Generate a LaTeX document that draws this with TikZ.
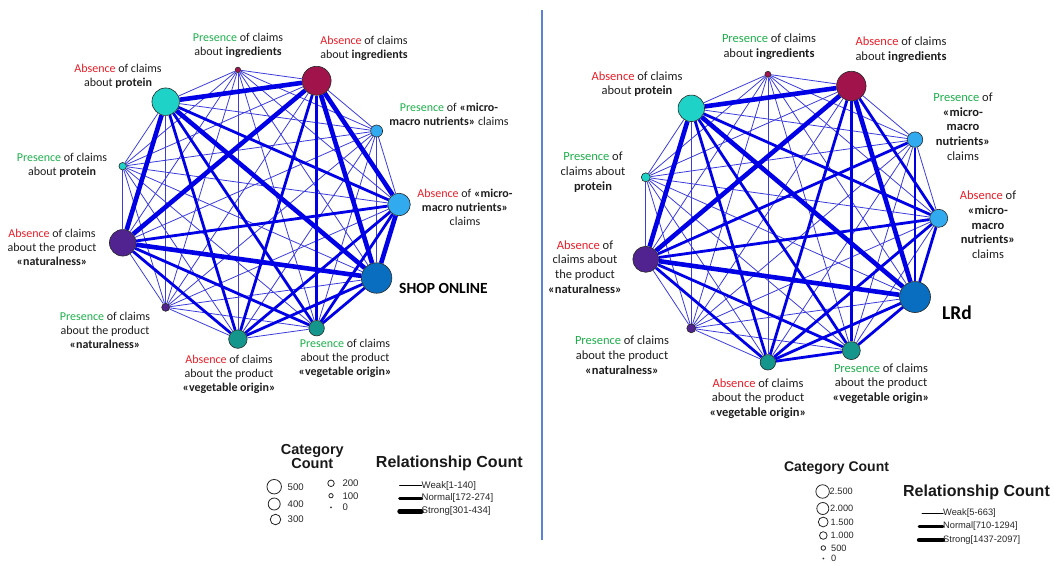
\documentclass[tikz,border=0pt]{standalone}
\usepackage{fontspec}
\setmainfont{Carlito}
\newfontfamily\arialf{Liberation Sans}
\usetikzlibrary{backgrounds}

\definecolor{edgeblue}{RGB}{0,0,230}
\definecolor{weakblue}{RGB}{60,60,222}
\definecolor{cIng}{RGB}{160,20,75}
\definecolor{cPro}{RGB}{30,210,200}
\definecolor{cNat}{RGB}{80,35,145}
\definecolor{cMic}{RGB}{50,170,240}
\definecolor{cShop}{RGB}{10,110,192}
\definecolor{cVeg}{RGB}{20,150,140}
\definecolor{presgreen}{RGB}{30,175,75}
\definecolor{absred}{RGB}{232,30,40}
\definecolor{sepblue}{RGB}{90,130,220}
\definecolor{txtgray}{RGB}{30,30,30}

\newcommand\Pres{\textcolor{presgreen}{Presence}}
\newcommand\Abs{\textcolor{absred}{Absence}}

\begin{document}
\begin{tikzpicture}[x=1pt,y=-1pt,
  gnode/.style 2 args={circle, draw=black!85, line width=0.6pt, fill=#1, minimum size=#2pt, inner sep=0pt},
  wedge/.style={draw=weakblue, line width=0.8pt},
  nedge/.style={draw=edgeblue, line width=2.8pt},
  sedge/.style={draw=edgeblue, line width=4.6pt},
  lblL/.style={align=center, inner sep=0pt, text=txtgray, font=\fontsize{12}{14}\selectfont},
  lblR/.style={align=center, inner sep=0pt, text=txtgray, font=\fontsize{12.5}{14.7}\selectfont},
  legcirc/.style={circle, draw=black!85, line width=0.8pt, fill=white, minimum size=#1pt, inner sep=0pt},
  legtxt/.style={anchor=west, inner sep=0pt, text=black!85, font=\arialf\fontsize{9.6}{11}\selectfont},
  legtitle/.style={align=center, inner sep=0pt, text=black!90, font=\arialf\bfseries\fontsize{#1}{14}\selectfont},
  legline/.style={draw=black, line cap=round, line width=#1pt}
]
\useasboundingbox (0,0) rectangle (1054,565);

% separator
\coordinate (septop) at (542,10);
\coordinate (sepbot) at (542,540);
\draw[sepblue, line width=1.1pt] (septop) -- (sepbot);

% ---------------- left graph nodes ----------------
\node[gnode={cMic}{22.5},  alias=Lam] (L1)  at (399.0,204.5) {};
\node[gnode={cMic}{12},    alias=Lpm] (L2)  at (376.6,131.0) {};
\node[gnode={cIng}{29},    alias=Lai] (L3)  at (316.6,80.8) {};
\node[gnode={cIng}{5.5},   alias=Lpi] (L4)  at (237.9,69.9) {};
\node[gnode={cPro}{27.5},  alias=Lap] (L5)  at (165.7,101.7) {};
\node[gnode={cPro}{7.5},   alias=Lpp] (L6)  at (122.7,166.2) {};
\node[gnode={cNat}{26.5},  alias=Lan] (L7)  at (122.7,242.8) {};
\node[gnode={cNat}{8},     alias=Lpn] (L8)  at (165.7,307.3) {};
\node[gnode={cVeg}{18.5},  alias=Lav] (L9)  at (237.9,339.1) {};
\node[gnode={cVeg}{15.5},  alias=Lpv] (L10) at (316.6,328.2) {};
\node[gnode={cShop}{30.5}, alias=Lso] (L11) at (376.6,278.0) {};

% ---------------- right graph nodes ----------------
\node[gnode={cMic}{18},    alias=Ram] (R1)  at (938.7,218.3) {};
\node[gnode={cMic}{15.5},  alias=Rpm] (R2)  at (915.0,139.6) {};
\node[gnode={cIng}{29.5},  alias=Rai] (R3)  at (851.3,86.0) {};
\node[gnode={cIng}{6},     alias=Rpi] (R4)  at (767.9,74.3) {};
\node[gnode={cPro}{26.5},  alias=Rap] (R5)  at (691.3,108.3) {};
\node[gnode={cPro}{9},     alias=Rpp] (R6)  at (645.8,177.3) {};
\node[gnode={cNat}{26},    alias=Ran] (R7)  at (645.8,259.3) {};
\node[gnode={cNat}{9},     alias=Rpn] (R8)  at (691.3,328.3) {};
\node[gnode={cVeg}{15.5},  alias=Rav] (R9)  at (767.9,362.3) {};
\node[gnode={cVeg}{18},    alias=Rpv] (R10) at (851.3,350.6) {};
\node[gnode={cShop}{31},   alias=Rlr] (R11) at (915.0,297.0) {};

% ---------------- edges ----------------
\begin{pgfonlayer}{background}
\foreach \i in {1,...,10}{
  \pgfmathtruncatemacro{\k}{\i+1}
  \foreach \j in {\k,...,11}{
    \draw[wedge] (L\i) -- (L\j);
    \draw[wedge] (R\i) -- (R\j);
  }
}
% left normal
\foreach \a/\b in {Lap/Lam, Lap/Lav, Lap/Lpv, Lai/Lpv, Lai/Lav, Lam/Lan, Lam/Lav, Lam/Lpv, Lan/Lav, Lan/Lpv, Lso/Lav, Lso/Lpv}
  \draw[nedge] (\a) -- (\b);
% left strong
\foreach \a/\b in {Lap/Lai, Lap/Lan, Lap/Lso, Lai/Lan, Lai/Lso, Lai/Lam, Lam/Lso, Lan/Lso}
  \draw[sedge] (\a) -- (\b);
% right normal
\foreach \a/\b in {Rap/Ram, Rap/Rav, Rap/Rpv, Rai/Rpv, Rai/Rav, Rai/Ram, Rpm/Rlr, Rpm/Ran, Ram/Rlr, Ram/Ran, Ram/Rav, Ran/Rav, Ran/Rpv, Rlr/Rav, Rlr/Rpv, Rav/Rpv}
  \draw[nedge] (\a) -- (\b);
% right strong
\foreach \a/\b in {Rap/Rai, Rap/Ran, Rap/Rlr, Rai/Ran, Rai/Rlr, Ran/Rlr}
  \draw[sedge] (\a) -- (\b);
\end{pgfonlayer}

% ---------------- left labels ----------------
\node[lblL] (tLpi) at (238,45)  {\Pres{} of claims\\about \textbf{ingredients}};
\node[lblL] (tLai) at (364,48)  {\Abs{} of claims\\about \textbf{ingredients}};
\node[lblL] (tLap) at (118,76)  {\Abs{} of claims\\about \textbf{protein}};
\node[lblL] (tLpm) at (449,114) {\Pres{} of \textbf{«micro-}\\\textbf{macro nutrients»} claims};
\node[lblL] (tLpp) at (62,165)  {\Pres{} of claims\\about \textbf{protein}};
\node[lblL] (tLam) at (465,207) {\Abs{} of \textbf{«micro-}\\\textbf{macro nutrients»}\\claims};
\node[lblL] (tLan) at (52,247)  {\Abs{} of claims\\about the product\\\textbf{«naturalness»}};
\node[anchor=west, inner sep=0pt, text=black, font=\bfseries\fontsize{15.5}{18}\selectfont] (tLso) at (399,288) {SHOP ONLINE};
\node[lblL] (tLpn) at (105,330) {\Pres{} of claims\\about the product\\\textbf{«naturalness»}};
\node[lblL] (tLav) at (229,374) {\Abs{} of claims\\about the product\\\textbf{«vegetable origin»}};
\node[lblL] (tLpv) at (345,358) {\Pres{} of claims\\about the product\\\textbf{«vegetable origin»}};

% ---------------- right labels ----------------
\node[lblR] (tRpi) at (769,47)    {\Pres{} of claims\\about \textbf{ingredients}};
\node[lblR] (tRai) at (901,50)    {\Abs{} of claims\\about \textbf{ingredients}};
\node[lblR] (tRap) at (637,84)    {\Abs{} of claims\\about \textbf{protein}};
\node[lblR] (tRpm) at (963,126.5) {\Pres{} of\\\textbf{«micro-}\\\textbf{macro}\\\textbf{nutrients»}\\claims};
\node[lblR] (tRpp) at (593,172)   {\Pres{} of\\claims about\\\textbf{protein}};
\node[lblR] (tRam) at (988,225)   {\Abs{} of\\\textbf{«micro-}\\\textbf{macro}\\\textbf{nutrients»}\\claims};
\node[lblR] (tRan) at (585,267)   {\Abs{} of\\claims about\\the product\\\textbf{«naturalness»}};
\node[anchor=west, inner sep=0pt, text=black, font=\bfseries\fontsize{19.5}{22}\selectfont] (tRlr) at (942,313) {LRd};
\node[lblR] (tRpn) at (622,355)   {\Pres{} of claims\\about the product\\\textbf{«naturalness»}};
\node[lblR] (tRav) at (758,398.5) {\Abs{} of claims\\about the product\\\textbf{«vegetable origin»}};
\node[lblR] (tRpv) at (881,383.7) {\Pres{} of claims\\about the product\\\textbf{«vegetable origin»}};

% ---------------- left legend ----------------
\node[legtitle=14.5] (lgLcat) at (312.3,456.3) {Category\\Count};
\node[legtitle=16] (lgLrel) at (449.3,463.3) {Relationship Count};
\node[legcirc=14.5] (lcL1) at (274.2,486.7) {};
\node[legtxt] (lcL1t) at (287.5,486.7) {500};
\node[legcirc=12] (lcL2) at (274.2,504) {};
\node[legtxt] (lcL2t) at (287.5,504) {400};
\node[legcirc=10.5] (lcL3) at (275.5,519.5) {};
\node[legtxt] (lcL3t) at (287.5,519.5) {300};
\node[legcirc=6.5] (lcL4) at (331,483.3) {};
\node[legtxt] (lcL4t) at (342.3,483.3) {200};
\node[legcirc=4.3] (lcL5) at (331,495.7) {};
\node[legtxt] (lcL5t) at (342.3,495.7) {100};
\node[circle, fill=black!80, minimum size=2pt, inner sep=0pt] (lcL6) at (331,507.3) {};
\node[legtxt] (lcL6t) at (342.3,507.3) {0};
\node[legtxt] (llL1) at (421.5,485.7) {Weak[1-140]};
\node[legtxt] (llL2) at (421.5,498.3) {Normal[172-274]};
\node[legtxt] (llL3) at (421.5,511.3) {Strong[301-434]};
\draw[legline=1]   ([xshift=-22pt]llL1.west) -- (llL1.west);
\draw[legline=2.6] ([xshift=-22pt]llL2.west) -- (llL2.west);
\draw[legline=4.4] ([xshift=-22pt]llL3.west) -- (llL3.west);

% ---------------- right legend ----------------
\node[legtitle=14] (lgRcat) at (836.5,468) {Category Count};
\node[legtitle=16] (lgRrel) at (976.5,492) {Relationship Count};
\node[legcirc=13.5] (lcR1) at (822.6,491.5) {};
\node[legtxt, font=\arialf\fontsize{9.2}{11}\selectfont] (lcR1t) at (829.5,491.5) {2.500};
\node[legcirc=12] (lcR2) at (822.8,508.5) {};
\node[legtxt, font=\arialf\fontsize{9.2}{11}\selectfont] (lcR2t) at (830,508.5) {2.000};
\node[legcirc=9.8] (lcR3) at (823.2,522) {};
\node[legtxt, font=\arialf\fontsize{9.2}{11}\selectfont] (lcR3t) at (830.5,522) {1.500};
\node[legcirc=7.6] (lcR4) at (823.3,535.5) {};
\node[legtxt, font=\arialf\fontsize{9.2}{11}\selectfont] (lcR4t) at (830.5,535.5) {1.000};
\node[legcirc=4.6] (lcR5) at (823.3,548) {};
\node[legtxt, font=\arialf\fontsize{9.2}{11}\selectfont] (lcR5t) at (831,548) {500};
\node[circle, fill=black!80, minimum size=2pt, inner sep=0pt] (lcR6) at (823.3,558.5) {};
\node[legtxt, font=\arialf\fontsize{9.2}{11}\selectfont] (lcR6t) at (831,558.5) {0};
\node[legtxt, font=\arialf\fontsize{9.3}{11}\selectfont] (llR1) at (943,513) {Weak[5-663]};
\node[legtxt, font=\arialf\fontsize{9.3}{11}\selectfont] (llR2) at (943,526.5) {Normal[710-1294]};
\node[legtxt, font=\arialf\fontsize{9.3}{11}\selectfont] (llR3) at (943,540) {Strong[1437-2097]};
\draw[legline=1]   ([xshift=-21pt]llR1.west) -- (llR1.west);
\draw[legline=2.6] ([xshift=-24pt]llR2.west) -- (llR2.west);
\draw[legline=4.4] ([xshift=-24pt]llR3.west) -- (llR3.west);
\end{tikzpicture}
\end{document}
